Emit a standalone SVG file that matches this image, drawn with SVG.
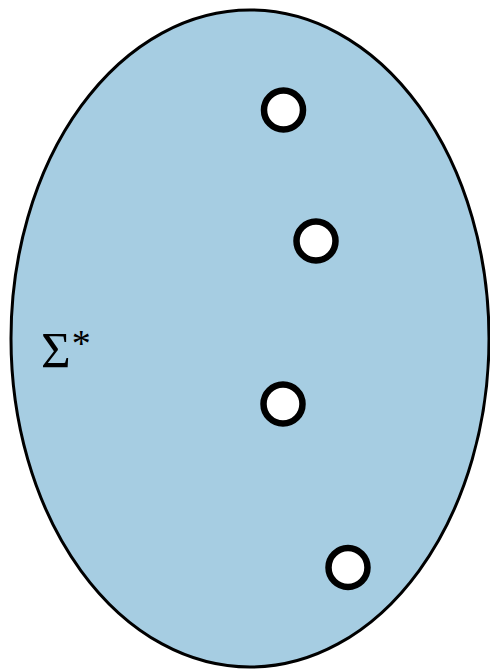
<svg xmlns="http://www.w3.org/2000/svg" width="490" height="670" viewBox="0 0 490 670">
<style>
.pt{fill:#fff;stroke:#000;stroke-width:6.5}
.lbl{font-family:"Liberation Serif","DejaVu Serif",serif;fill:#000}
</style>
<rect width="490" height="670" fill="#fff"/>
<g id="set">
<ellipse cx="250" cy="338.5" rx="239" ry="328.5" fill="#a6cde2" stroke="#000" stroke-width="3"/>
<text class="lbl" x="41" y="367" font-size="51">Σ<tspan font-size="38" dy="-11" dx="1">*</tspan></text>
</g>
<g id="p1"><circle class="pt" cx="283.5" cy="110" r="19.5"/></g>
<g id="p2"><circle class="pt" cx="316" cy="241" r="19.5"/></g>
<g id="p3"><circle class="pt" cx="283" cy="404" r="19.5"/></g>
<g id="p4"><circle class="pt" cx="348" cy="567.5" r="19.5"/></g>
<g id="connectors"></g>
</svg>
